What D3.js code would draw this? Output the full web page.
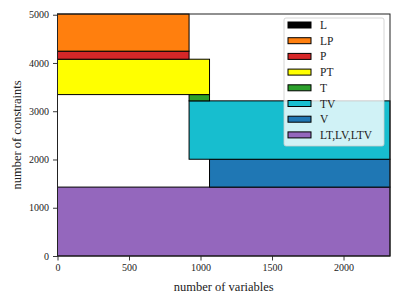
<!DOCTYPE html>
<html>
<head>
<meta charset="utf-8">
<script src="https://cdn.jsdelivr.net/npm/d3@7"></script>
<style>
  body { margin: 0; background: #fff; }
  text { font-family: "Liberation Serif", serif; }
</style>
</head>
<body>
<svg id="chart" width="402" height="303"></svg>
<script>
// legend entries and colours
var labels = ["L", "LP", "P", "PT", "T", "TV", "V", "LT,LV,LTV"]
var colors = ["#000000", "#ff7f0e", "#d62728", "#ffff00", "#2ca02c", "#17becf", "#1f77b4", "#9467bd"]

// rectangles: variables range (x) and constraints range (y)
var rectNames = ["LT,LV,LTV", "V", "TV", "T", "PT", "P", "LP"]
var varStart = [0, 1063, 920, 920, 0, 0, 0]
var varEnd = [2325, 2325, 2325, 1063, 1063, 920, 920]
var consStart = [0, 1428, 2005, 3215, 3345, 4078, 4245]
var consEnd = [1428, 2005, 3215, 3345, 4078, 4245, 5015]

var xTicks = [0, 500, 1000, 1500, 2000]
var yTicks = [0, 1000, 2000, 3000, 4000, 5000]

var margin = { top: 14, right: 12, bottom: 47, left: 57.5 }
var width = 402 - margin.left - margin.right,
    height = 303 - margin.top - margin.bottom

var svg = d3.select("#chart")
var g = svg.append("g").attr("transform", "translate(" + margin.left + "," + margin.top + ")")

var x = d3.scaleLinear().domain([0, 2325]).range([0, width])
var y = d3.scaleLinear().domain([0, 5015]).range([height, 0])
var color = d3.scaleOrdinal().domain(labels).range(colors)

var rects = rectNames.map(function (n, i) {
    return { name: n, x0: varStart[i], x1: varEnd[i], y0: consStart[i], y1: consEnd[i] }
})

g.selectAll("rect.box")
    .data(rects)
    .enter()
    .append("rect")
    .attr("class", "box")
    .attr("x", function (d) { return x(d.x0) })
    .attr("y", function (d) { return y(d.y1) })
    .attr("width", function (d) { return x(d.x1) - x(d.x0) })
    .attr("height", function (d) { return y(d.y0) - y(d.y1) })
    .attr("fill", function (d) { return color(d.name) })
    .attr("stroke", "#000")
    .attr("stroke-width", 1)

// axes
var xAxis = g.append("g")
    .attr("transform", "translate(0," + height + ")")
    .call(d3.axisBottom(x).tickValues(xTicks).tickSize(4.5).tickPadding(3).tickFormat(d3.format("d")))
var yAxis = g.append("g")
    .call(d3.axisLeft(y).tickValues(yTicks).tickSize(4.5).tickPadding(4).tickFormat(d3.format("d")))

;[xAxis, yAxis].forEach(function (a) {
    a.select(".domain").remove()
    a.selectAll("line").attr("stroke", "#222").attr("stroke-width", 0.9)
    a.selectAll("text").attr("font-size", 10).attr("fill", "#222")
        .style("font-family", "'Liberation Serif', serif")
})

// frame
g.append("rect")
    .attr("x", 0).attr("y", 0)
    .attr("width", width).attr("height", height)
    .attr("fill", "none")
    .attr("stroke", "#222")
    .attr("stroke-width", 1)

// axis labels
svg.append("text")
    .attr("x", margin.left + width / 2)
    .attr("y", 291)
    .attr("text-anchor", "middle")
    .attr("font-size", 12.5)
    .attr("fill", "#222")
    .text("number of variables")

svg.append("text")
    .attr("transform", "translate(21," + (margin.top + height / 2) + ")rotate(-90)")
    .attr("text-anchor", "middle")
    .attr("font-size", 12.5)
    .attr("fill", "#222")
    .text("number of constraints")

// legend
var legend = svg.append("g").attr("transform", "translate(284,18)")
legend.append("rect")
    .attr("x", 0).attr("y", 0)
    .attr("width", 100).attr("height", 128)
    .attr("rx", 2)
    .attr("fill", "#fff")
    .attr("fill-opacity", 0.8)
    .attr("stroke", "#ccc")
    .attr("stroke-width", 0.8)

var items = legend.selectAll("g.item")
    .data(labels)
    .enter()
    .append("g")
    .attr("class", "item")
    .attr("transform", function (d, i) { return "translate(4," + (7 + i * 15.7) + ")" })

items.append("rect")
    .attr("x", 0).attr("y", -3)
    .attr("width", 23).attr("height", 6)
    .attr("fill", function (d) { return color(d) })
    .attr("stroke", "#000")
    .attr("stroke-width", 1)

items.append("text")
    .attr("x", 32)
    .attr("y", 4)
    .attr("font-size", 11.5)
    .attr("fill", "#222")
    .text(function (d) { return d })
</script>
</body>
</html>
